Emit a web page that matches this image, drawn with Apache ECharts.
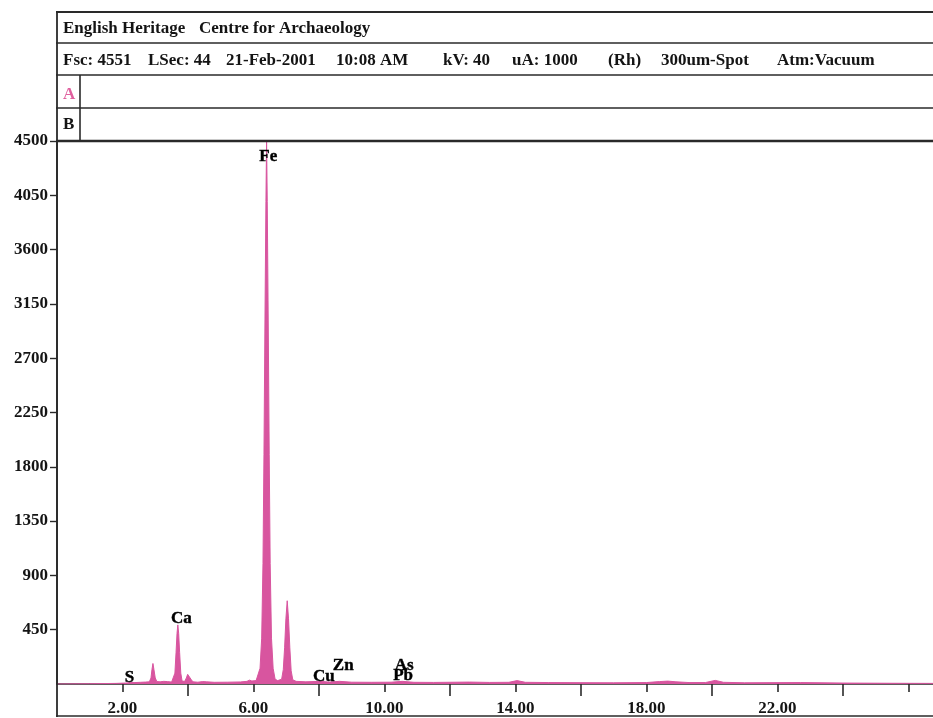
<!DOCTYPE html>
<html>
<head>
<meta charset="utf-8">
<style>
html,body{margin:0;padding:0;background:#ffffff;}
#chart{width:933px;height:718px;}
</style>
<script src="https://cdn.jsdelivr.net/npm/echarts@6/dist/echarts.min.js"></script>
</head>
<body>
<div id="chart"></div>
<script>
// ---- data ----
const spectrumKeV = [
  0.00, 1.00, 1.80, 2.10, 2.25, 2.31, 2.38, 2.55, 2.70, 2.82, 2.87, 2.90, 2.93, 2.96, 3.00, 3.05,
  3.15, 3.26, 3.31, 3.37, 3.50, 3.56, 3.60, 3.635, 3.665, 3.69, 3.715, 3.745, 3.78, 3.82, 3.90, 3.95,
  3.99, 4.02, 4.05, 4.09, 4.15, 4.30, 4.45, 4.51, 4.57, 4.80, 5.20, 5.60, 5.80, 5.88, 5.95, 6.08,
  6.14, 6.20, 6.25, 6.29, 6.32, 6.35, 6.38, 6.40, 6.42, 6.45, 6.48, 6.51, 6.55, 6.60, 6.66, 6.74,
  6.80, 6.86, 6.91, 6.95, 6.99, 7.03, 7.07, 7.11, 7.15, 7.20, 7.30, 7.60, 8.04, 8.30, 8.63, 9.00,
  9.60, 10.20, 10.54, 10.90, 11.50, 12.60, 13.20, 13.80, 14.05, 14.30, 15.00, 16.00, 17.00, 18.00,
  18.40, 18.65, 18.90, 19.30, 19.80, 20.10, 20.35, 21.00, 22.70, 24.00, 25.50, 26.75
];
const spectrumCounts = [
  0, 2, 5, 8, 12, 16, 12, 14, 16, 18, 50, 120, 170, 120, 50, 20,
  18, 22, 26, 20, 16, 22, 90, 260, 420, 490, 420, 260, 90, 24, 22, 50,
  80, 85, 70, 40, 18, 15, 20, 28, 18, 14, 15, 17, 22, 32, 25, 28,
  40, 130, 380, 1000, 1900, 3000, 4000, 4500, 4000, 3000, 1900, 1000, 380, 130, 40, 28,
  30, 40, 120, 300, 540, 690, 540, 300, 110, 35, 22, 18, 22, 16, 22, 15,
  14, 15, 22, 14, 13, 16, 13, 14, 28, 14, 12, 11, 10, 12,
  20, 24, 18, 12, 12, 30, 14, 10, 12, 8, 6, 5
];
const elementNames  = ["Fe", "Ca", "S", "Cu", "Zn", "As", "Pb"];
const elementKeV    = [6.45, 3.80, 2.21, 8.15, 8.74, 10.60, 10.57];
const elementLabelY = [4367, 539, 50, 58, 149, 152, 66];

const yTickValues   = [450, 900, 1350, 1800, 2250, 2700, 3150, 3600, 4050, 4500];
const xLabelValues  = [2, 6, 10, 14, 18, 22];
const xShortTicks   = [2, 6, 10, 14, 18, 22, 26];
const xLongTicks    = [4, 8, 12, 16, 20, 24];

const headerTitle = ["English Heritage", "Centre for Archaeology"];
const headerInfo  = ["Fsc: 4551", "LSec: 44", "21-Feb-2001", "10:08 AM", "kV: 40", "uA: 1000", "(Rh)", "300um-Spot", "Atm:Vacuum"];
const rowLabels   = ["A", "B"];

// ---- styling ----
const FONT = 'bold 17px "Liberation Serif", "DejaVu Serif", serif';
const INK = '#141414';
const LINE = '#2a2a2a';
const PINK = '#d8559f';

const chart = echarts.init(document.getElementById('chart'), null, {renderer: 'canvas'});

const spectrum = spectrumKeV.map((e, i) => [e, spectrumCounts[i]]);
const labelsData = elementNames.map((n, i) => ({name: n, value: [elementKeV[i], elementLabelY[i]]}));

function hline(x1, x2, y, w) {
  return {type: 'line', z: 100, silent: true, shape: {x1: x1, y1: y, x2: x2, y2: y}, style: {stroke: LINE, lineWidth: w}};
}
function vline(x, y1, y2, w) {
  return {type: 'line', z: 100, silent: true, shape: {x1: x, y1: y1, x2: x, y2: y2}, style: {stroke: LINE, lineWidth: w}};
}
function txt(x, y, s, color) {
  return {type: 'text', z: 100, silent: true, style: {x: x, y: y, text: s, font: FONT, fill: color || INK, verticalAlign: 'middle', align: 'left'}};
}

const titleX = [63, 199];
const infoX  = [63, 148, 226, 336, 443, 512, 608, 661, 777];

const graphics = [
  hline(56, 933, 12, 2),
  hline(56, 933, 43, 1.6),
  hline(56, 933, 75, 1.6),
  hline(56, 933, 108, 1.6),
  hline(56, 933, 141, 2.4),
  hline(56, 933, 716, 1.6),
  vline(57, 11, 717, 1.8),
  vline(80, 75, 141, 1.6)
];
headerTitle.forEach((s, i) => graphics.push(txt(titleX[i], 29, s)));
headerInfo.forEach((s, i) => graphics.push(txt(infoX[i], 61, s)));
graphics.push(txt(63, 95, rowLabels[0], '#e0609f'));
graphics.push(txt(63, 125, rowLabels[1]));

const axisFont = {fontFamily: '"Liberation Serif", serif', fontWeight: 'bold', fontSize: 17, color: INK};

chart.setOption({
  animation: false,
  backgroundColor: '#ffffff',
  grid: {left: 57, right: 0, top: 141, height: 543},
  xAxis: [{
    type: 'value', min: 0, max: 26.75, gridIndex: 0, position: 'bottom',
    axisLine: {show: true, onZero: false, lineStyle: {color: LINE, width: 1.6}},
    axisTick: {show: true, customValues: xShortTicks, length: 8, lineStyle: {color: LINE, width: 1.6}},
    axisLabel: Object.assign({show: true, customValues: xLabelValues, formatter: v => Number(v).toFixed(2), margin: 16}, axisFont),
    splitLine: {show: false}
  }, {
    type: 'value', min: 0, max: 26.75, gridIndex: 0, position: 'bottom',
    axisLine: {show: false, onZero: false},
    axisTick: {show: true, customValues: xLongTicks, length: 12, lineStyle: {color: LINE, width: 1.6}},
    axisLabel: {show: false},
    splitLine: {show: false}
  }],
  yAxis: {
    type: 'value', min: 0, max: 4500, interval: 450,
    axisLine: {show: true, lineStyle: {color: LINE, width: 1.6}},
    axisTick: {show: true, customValues: yTickValues, length: 7, lineStyle: {color: LINE, width: 1.4}},
    axisLabel: Object.assign({show: true, customValues: yTickValues, margin: 9, formatter: v => String(v)}, axisFont),
    splitLine: {show: false}
  },
  series: [{
    name: 'Spectrum', type: 'line', xAxisIndex: 0, data: spectrum,
    showSymbol: false, symbol: 'none', clip: true,
    lineStyle: {color: PINK, width: 1},
    areaStyle: {color: PINK, opacity: 1},
    z: 2
  }, {
    name: 'Elements', type: 'scatter', xAxisIndex: 0, data: labelsData,
    symbolSize: 1, itemStyle: {color: '#ffffff', opacity: 0},
    emphasis: {disabled: true},
    label: {show: true, position: 'inside', formatter: '{b}', opacity: 1,
      textBorderColor: '#000000', textBorderWidth: 0.4,
      fontFamily: '"Liberation Serif", serif', fontWeight: 'bold', fontSize: 17, color: '#000000'},
    z: 5
  }],
  graphic: graphics
});
</script>
</body>
</html>
